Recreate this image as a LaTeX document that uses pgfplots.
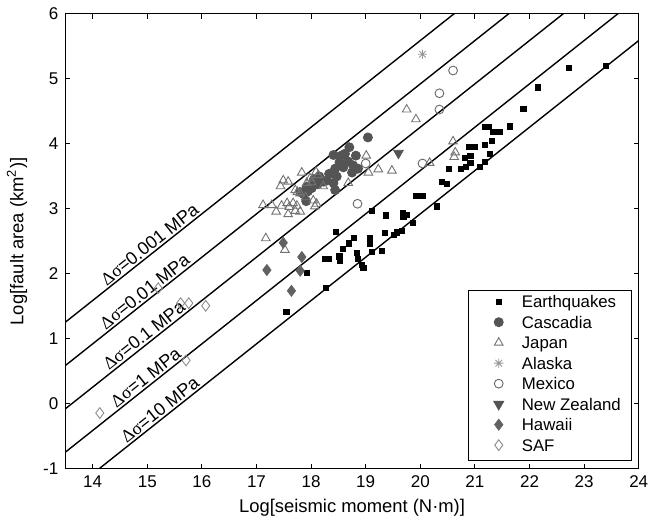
\documentclass[border=0pt]{standalone}
\usepackage{fontspec}
\setmainfont{Liberation Sans}
\newfontfamily\greekfont{Liberation Serif}
\usepackage{pgfplots}
\pgfplotsset{compat=1.18}

% MATLAB-like 8-arm asterisk
\pgfdeclareplotmark{ast8}{%
  \pgfpathmoveto{\pgfqpoint{-\pgfplotmarksize}{0pt}}\pgfpathlineto{\pgfqpoint{\pgfplotmarksize}{0pt}}%
  \pgfpathmoveto{\pgfqpoint{0pt}{-\pgfplotmarksize}}\pgfpathlineto{\pgfqpoint{0pt}{\pgfplotmarksize}}%
  \pgfpathmoveto{\pgfqpoint{-.707\pgfplotmarksize}{-.707\pgfplotmarksize}}\pgfpathlineto{\pgfqpoint{.707\pgfplotmarksize}{.707\pgfplotmarksize}}%
  \pgfpathmoveto{\pgfqpoint{-.707\pgfplotmarksize}{.707\pgfplotmarksize}}\pgfpathlineto{\pgfqpoint{.707\pgfplotmarksize}{-.707\pgfplotmarksize}}%
  \pgfusepathqstroke}

\definecolor{cas}{gray}{0.33}
\definecolor{jap}{gray}{0.45}
\definecolor{ala}{gray}{0.6}
\definecolor{mex}{gray}{0.4}
\definecolor{haw}{gray}{0.38}
\definecolor{saf}{gray}{0.55}

\pgfplotsset{
  mk/.style={only marks, mark options={line width=0.45pt},
    legend image code/.code={\path (-15pt,0pt) (11.3pt,0pt); \draw[##1] plot coordinates {(0pt,0.8pt)};}},
}

\begin{document}
\begin{tikzpicture}
\begin{axis}[
  name=ax,
  width=286.7pt, height=227.5pt, scale only axis,
  xmin=13.5, xmax=24, ymin=-1, ymax=6,
  xtick={14,15,...,24}, ytick={-1,0,...,6},
  tick align=inside, major tick length=2.5pt,
  axis line style={line width=0.5pt}, tick style={line width=0.5pt, black},
  tick label style={font=\fontsize{8.5}{10}\selectfont},
  /pgf/number format/assume math mode=true,
  label style={font=\fontsize{9.2}{11}\selectfont},
  xlabel={Log[seismic moment (N·m)]},
  ylabel={Log[fault area (km\textsuperscript{2})]},
  xlabel style={at={(axis description cs:0.5,-0.0857)}, anchor=center},
  ylabel style={at={(axis description cs:-0.0844,0.5)}, anchor=center, rotate=0},
  legend style={at={(axis description cs:1,0)}, anchor=south east, xshift=-3.2pt, yshift=4.2pt,
    draw=black, line width=0.5pt, fill=white,
    font=\fontsize{8.4}{10}\selectfont,
    inner xsep=0pt, inner ysep=1.5pt, row sep=0pt, column sep=0pt,
    nodes={inner xsep=0pt, inner ysep=0pt, text height=7.3pt, text depth=2.95pt},
    cells={anchor=west}},
]
% constant stress-drop lines
\addplot[black, line width=0.7pt, forget plot] coordinates {(13.5,1.258) (24,8.258)};
\addplot[black, line width=0.7pt, forget plot] coordinates {(13.5,0.591) (24,7.591)};
\addplot[black, line width=0.7pt, forget plot] coordinates {(13.5,-0.075) (24,6.925)};
\addplot[black, line width=0.7pt, forget plot] coordinates {(13.5,-0.742) (24,6.258)};
\addplot[black, line width=0.7pt, forget plot] coordinates {(13.5,-1.409) (24,5.591)};

% Earthquakes
\addplot[mk, mark=square*, mark size=1.3pt, black] coordinates {
(23.40,5.20) (22.72,5.17) (22.15,4.87) (21.89,4.54) (21.64,4.27)
(21.19,4.26) (21.25,4.26) (21.34,4.19) (21.45,4.18) (21.31,4.05)
(20.90,3.96) (21.00,3.96) (21.19,3.98) (21.28,3.85) (20.82,3.78)
(20.92,3.82) (20.92,3.71) (20.84,3.65) (21.19,3.72) (21.09,3.65)
(20.74,3.61) (20.53,3.61) (20.39,3.42) (20.49,3.38) (19.93,3.20)
(20.04,3.20) (20.30,3.04) (19.11,2.97) (19.37,2.90) (19.68,2.94)
(19.69,2.88) (19.76,2.91) (19.87,2.79) (18.45,2.65) (18.79,2.56)
(18.70,2.47) (18.58,2.38) (19.08,2.55) (19.08,2.46) (19.11,2.34)
(19.35,2.63) (19.52,2.60) (19.57,2.64) (19.66,2.66) (19.30,2.35)
(18.25,2.23) (18.32,2.23) (18.52,2.27) (18.53,2.20) (18.84,2.32)
(18.86,2.23) (18.93,2.14) (18.96,2.09) (17.92,2.01) (18.27,1.78)
(17.55,1.41)
};
\addlegendentry{Earthquakes}

% Cascadia
\addplot[mk, mark=*, mark size=2.25pt, cas] coordinates {
(19.04,4.10) (18.70,3.95) (18.41,3.83) (18.62,3.85) (18.82,3.82)
(18.68,3.73) (18.52,3.72) (18.77,3.67) (18.59,3.64) (18.86,3.62)
(18.75,3.56) (18.33,3.54) (18.47,3.50) (18.44,3.62) (18.23,3.42)
(18.29,3.44) (18.41,3.40) (18.12,3.38) (18.16,3.42) (18.05,3.45)
(17.94,3.27) (18.01,3.32) (18.07,3.40) (17.91,3.12) (17.86,3.23)
(17.80,3.26) (17.92,3.34) (18.44,3.29) (18.15,3.50) (18.55,3.82)
};
\addlegendentry{Cascadia}

% Japan
\addplot[mk, mark=triangle, mark size=2.5pt, jap] coordinates {
(17.83,3.56) (18.09,3.57) (17.49,3.44) (17.58,3.42) (17.44,3.35)
(17.98,3.47) (17.92,3.40) (18.01,3.41) (18.13,3.52) (17.75,3.26)
(17.80,3.24) (17.71,3.29) (17.12,3.06) (17.28,3.06) (17.36,2.96)
(17.46,3.05) (17.56,3.09) (17.60,3.03) (17.58,2.92) (17.67,3.09)
(17.74,3.05) (17.71,2.97) (17.80,2.96) (18.04,3.13) (18.10,3.08)
(18.07,3.04) (17.17,2.55) (17.52,2.37) (19.75,4.53) (19.92,4.38)
(19.01,3.82) (19.23,3.61) (19.48,3.59) (19.05,3.56) (18.68,3.40)
(20.60,4.04) (20.64,3.87) (20.62,3.80) (20.17,3.71) (18.22,3.35)
(17.90,3.18)
};
\addlegendentry{Japan}

% Alaska
\addplot[mk, mark=ast8, mark size=2.3pt, ala] coordinates {(20.04,5.38)};
\addlegendentry{Alaska}

% Mexico
\addplot[mk, mark=o, mark size=2.2pt, mex] coordinates {
(20.60,5.13) (20.35,4.78) (20.35,4.53) (19.00,3.70) (20.04,3.70) (18.85,3.08)
};
\addlegendentry{Mexico}

% New Zealand
\addplot[mk, mark=triangle*, mark size=2.8pt, cas, mark options={rotate=180}] coordinates {(19.60,3.86)};
\addlegendentry{New Zealand\hspace*{5.5pt}}

% Hawaii
\addplot[mk, mark=diamond*, mark size=2.7pt, haw] coordinates {
(17.49,2.48) (17.83,2.26) (17.19,2.06) (17.80,2.05) (17.64,1.74)
};
\addlegendentry{Hawaii}

% SAF
\addplot[mk, mark=diamond, mark size=2.7pt, saf] coordinates {
(15.20,1.78) (15.61,1.55) (15.76,1.55) (16.07,1.51) (15.71,0.67) (14.13,-0.14)
};
\addlegendentry{SAF}

% line labels
\begin{scope}[every node/.style={rotate=38.4, anchor=south, inner sep=1pt, font=\fontsize{9}{10}\selectfont}]
\node at (axis cs:15.14,2.351) {{\greekfont Δσ}=0.001 MPa};
\node at (axis cs:15.05,1.624) {{\greekfont Δσ}=0.01 MPa};
\node at (axis cs:15.04,0.952) {{\greekfont Δσ}=0.1 MPa};
\node at (axis cs:15.07,0.305) {{\greekfont Δσ}=1 MPa};
\node at (axis cs:15.33,-0.189) {{\greekfont Δσ}=10 MPa};
\end{scope}
\end{axis}
\pgfresetboundingbox
\path[use as bounding box] ([xshift=-32.7pt,yshift=-23.5pt]ax.south west) rectangle ([xshift=9.65pt,yshift=7pt]ax.north east);
\end{tikzpicture}
\end{document}
